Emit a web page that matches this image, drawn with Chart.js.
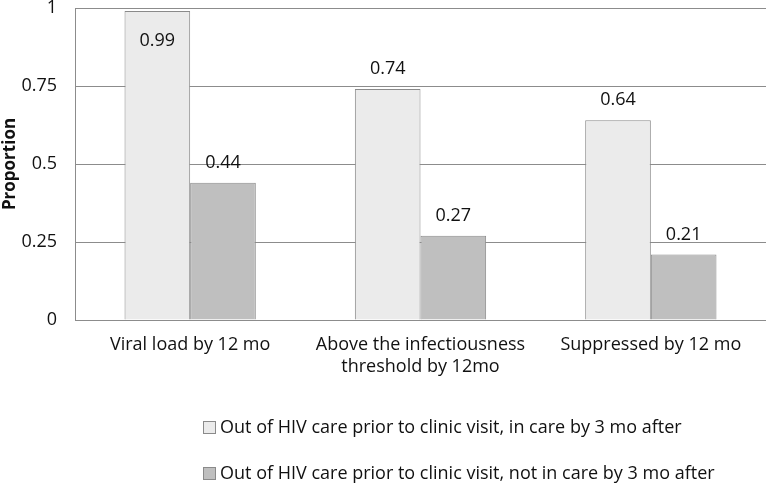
<!DOCTYPE html>
<html>
<head>
<meta charset="utf-8">
<script src="https://cdn.jsdelivr.net/npm/chart.js@4"></script>
<style>
  html, body { margin: 0; padding: 0; background: #fff; }
  #wrap { position: relative; width: 766px; height: 484px; }
</style>
</head>
<body>
<div id="wrap"><canvas id="c" width="766" height="484"></canvas></div>
<script>
const categories = [
  ["Viral load by 12 mo"],
  ["Above the infectiousness", "threshold by 12mo"],
  ["Suppressed by 12 mo"]
];
const seriesNames = [
  "Out of HIV care prior to clinic visit, in care by 3 mo after",
  "Out of HIV care prior to clinic visit, not in care by 3 mo after"
];
const inCareValues = [0.99, 0.74, 0.64];
const notInCareValues = [0.44, 0.27, 0.21];
const yTickValues = [0, 0.25, 0.5, 0.75, 1];
const yAxisTitle = "Proportion";

const FONT = "'Open Sans', 'Noto Sans', sans-serif";
const GRID = "#8c8c8c";
const BORDER = "#8a8a8a";
const FILLS = ["#ebebeb", "#bfbfbf"];

const valueLabels = {
  id: "valueLabels",
  afterDatasetsDraw(chart) {
    const ctx = chart.ctx;
    ctx.save();
    ctx.font = "18px " + FONT;
    ctx.fillStyle = "#111";
    ctx.textAlign = "center";
    ctx.textBaseline = "middle";
    chart.data.datasets.forEach((ds, di) => {
      const meta = chart.getDatasetMeta(di);
      meta.data.forEach((el, i) => {
        const v = ds.data[i];
        const y = v > 0.9 ? el.y + 30 : el.y - 20;
        ctx.fillText(v.toFixed(2), el.x, y);
      });
    });
    ctx.restore();
  }
};

const stackedLegend = {
  id: "stackedLegend",
  afterDraw(chart) {
    const ctx = chart.ctx;
    ctx.save();
    ctx.font = "18px " + FONT;
    ctx.textAlign = "left";
    ctx.textBaseline = "middle";
    const rows = [427, 473];
    chart.data.datasets.forEach((ds, di) => {
      const cy = rows[di];
      ctx.fillStyle = ds.backgroundColor;
      ctx.fillRect(203.5, cy - 5.5, 12, 12);
      ctx.strokeStyle = ds.borderColor;
      ctx.lineWidth = 1;
      ctx.strokeRect(203.5, cy - 5.5, 12, 12);
      ctx.fillStyle = "#111";
      ctx.fillText(ds.label, 220, cy + 1);
    });
    ctx.restore();
  }
};

new Chart(document.getElementById("c"), {
  type: "bar",
  data: {
    labels: categories,
    datasets: [
      { label: seriesNames[0], data: inCareValues, backgroundColor: FILLS[0], borderColor: BORDER, borderWidth: 1 },
      { label: seriesNames[1], data: notInCareValues, backgroundColor: FILLS[1], borderColor: BORDER, borderWidth: 1 }
    ]
  },
  options: {
    responsive: false,
    animation: false,
    devicePixelRatio: 1,
    categoryPercentage: 0.57,
    barPercentage: 1.0,
    layout: { padding: { top: 8, right: 0, bottom: 94, left: 0 } },
    plugins: { legend: { display: false }, tooltip: { enabled: false } },
    scales: {
      x: {
        grid: { display: false, drawTicks: false },
        border: { display: true, color: GRID, width: 1 },
        ticks: { color: "#111", font: { family: FONT, size: 18, lineHeight: 1.22 }, padding: 14, maxRotation: 0, autoSkip: false },
        afterFit(scale) { scale.height = 70; }
      },
      y: {
        min: 0, max: 1,
        afterBuildTicks(scale) { scale.ticks = yTickValues.map(v => ({ value: v })); },
        grid: { color: GRID, lineWidth: 1, drawTicks: true, tickLength: 18, tickColor: "rgba(0,0,0,0)" },
        border: { display: true, color: GRID, width: 1 },
        ticks: { color: "#111", font: { family: FONT, size: 18, lineHeight: 0.9 }, padding: 0, callback: v => String(v) },
        title: { display: true, text: yAxisTitle, color: "#111", font: { family: FONT, size: 17, weight: "bold", lineHeight: 1.2 }, padding: { top: 0, bottom: 0 } },
        afterFit(scale) { scale.width = 75; scale.paddingTop = 8; }
      }
    }
  },
  plugins: [valueLabels, stackedLegend]
});
</script>
</body>
</html>
